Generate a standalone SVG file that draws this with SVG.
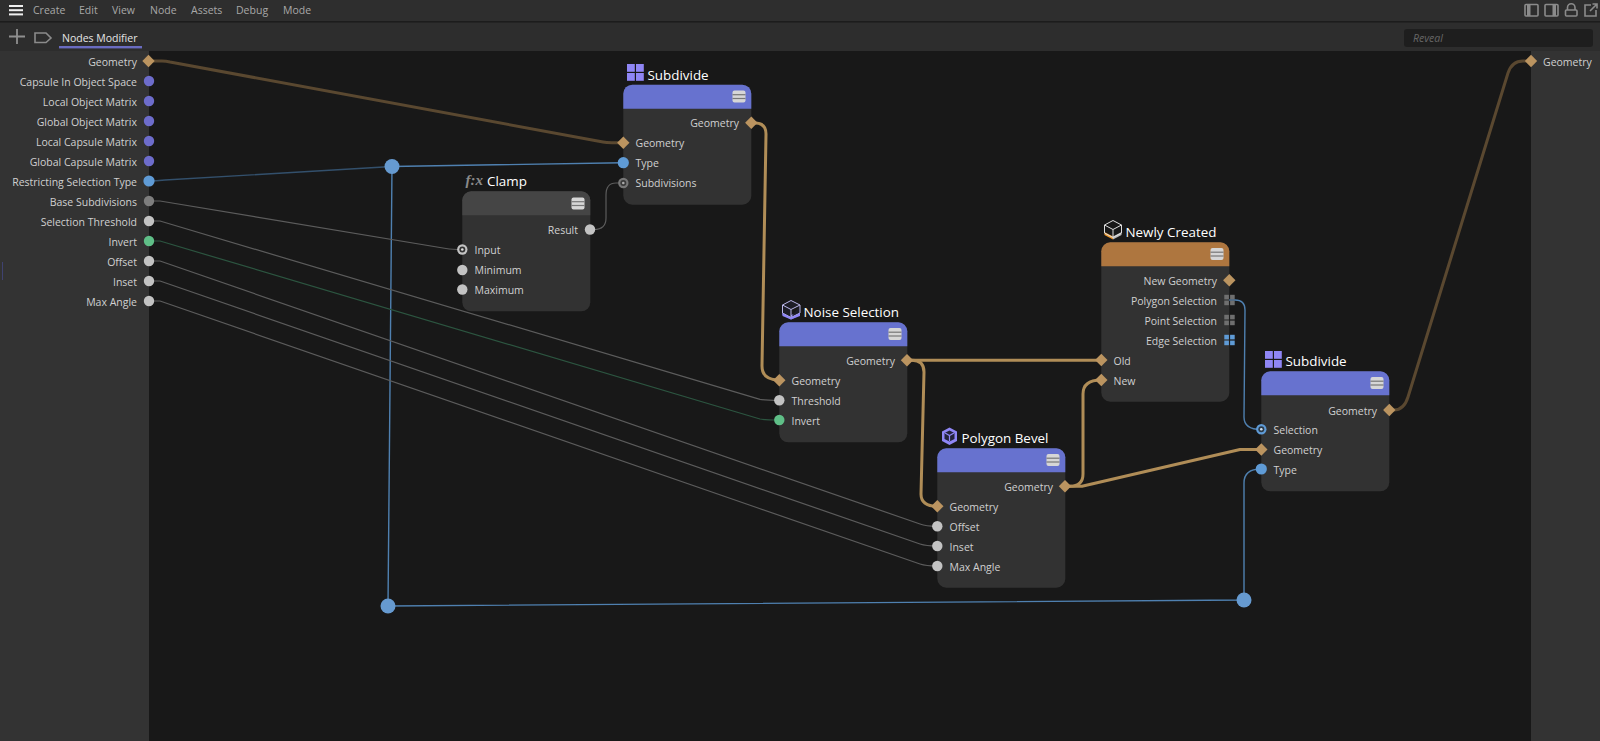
<svg xmlns="http://www.w3.org/2000/svg" width="1600" height="741" viewBox="0 0 1600 741">
<style>
text{font-family:"Open Sans","Noto Sans","Liberation Sans",sans-serif;font-size:10.5px;fill:#d0d0d0}
.r{text-anchor:end}
.m{font-size:10.5px;fill:#a8a8a8}
.t{font-size:13.4px;fill:#fff}
.body{fill:#323232}
.hb{fill:#6772cf}
.w{fill:none;stroke-linecap:round;stroke-linejoin:round}
.g{stroke:#b08d57;stroke-width:3}
.gd{stroke:#5a4830;stroke-width:3}
.b{stroke:#4f80b0;stroke-width:1.4}
.bd{stroke:#33506c;stroke-width:1.4}
.s{stroke:#5c5c5c;stroke-width:1.2}
.sg{stroke:#2c5540;stroke-width:1.2}
.ic{fill:none;stroke:#8b8b8b;stroke-width:1.6}
</style>
<defs>
<polygon id="dia" points="0,-6.2 6.2,0 0,6.2 -6.2,0" fill="#bb9460"/>
<circle id="w" r="5.2" fill="#c3c3c3"/>
<circle id="bl" r="5.6" fill="#5f9bd6"/>
<circle id="pu" r="5.2" fill="#6d6ccb"/>
<g id="ring"><circle r="5.2" fill="#c3c3c3"/><circle r="3" fill="#333"/><circle r="1.3" fill="#e0e0e0"/></g>
<g id="ringd"><circle r="5.2" fill="#777"/><circle r="3" fill="#3a3a3a"/><circle r="1.3" fill="#aaa"/></g>
<g id="ringb"><circle r="5.2" fill="#5f9bd6"/><circle r="3" fill="#2c3a48"/><circle r="1.3" fill="#cfe0f0"/></g>
<g id="menu"><rect x="-6.5" y="-6" width="13" height="12" rx="2" fill="#d6d6d6"/><rect x="-6.5" y="-2.4" width="13" height="1.2" fill="#777"/><rect x="-6.5" y="1.4" width="13" height="1.2" fill="#777"/></g>
<g id="grid"><rect width="7.8" height="7.8" x="0" y="0"/><rect width="7.8" height="7.8" x="9" y="0"/><rect width="7.8" height="7.8" x="0" y="9"/><rect width="7.8" height="7.8" x="9" y="9"/></g>
<g id="sq"><rect x="-5.2" y="-5.2" width="4.6" height="4.6"/><rect x="0.6" y="-5.2" width="4.6" height="4.6"/><rect x="-5.2" y="0.6" width="4.6" height="4.6"/><rect x="0.6" y="0.6" width="4.6" height="4.6"/></g>
</defs>

<rect id="canvas" width="1600" height="741" fill="#181818"/>

<g id="toolbar">
<rect width="1600" height="21" fill="#2e2e2e"/>
<rect y="21" width="1600" height="1.5" fill="#1c1c1c"/>
<rect y="22.5" width="1600" height="28.5" fill="#2d2d2d"/>
<rect x="9" y="5" width="14" height="2" fill="#eee"/><rect x="9" y="9.200" width="14" height="2" fill="#eee"/><rect x="9" y="13.400" width="14" height="2" fill="#eee"/>
<text class="m" x="33" y="14">Create</text><text class="m" x="79" y="14">Edit</text><text class="m" x="112" y="14">View</text><text class="m" x="150" y="14">Node</text><text class="m" x="191" y="14">Assets</text><text class="m" x="236" y="14">Debug</text><text class="m" x="283" y="14">Mode</text>
<path d="M17 29V44M9 36.500H25" stroke="#8f8f8f" stroke-width="1.800" fill="none"/>
<path d="M35 33H46L51 38L46 42.500H35Z" class="ic"/>
<text x="62" y="42" style="fill:#e6e6e6">Nodes Modifier</text>
<rect x="59" y="46" width="83" height="2.400" fill="#6a6cc0"/>
<rect x="1404" y="29" width="189" height="18" rx="3" fill="#1e1e1e"/>
<text x="1413" y="42" style="font-style:italic;fill:#666">Reveal</text>
<rect x="1525" y="4.500" width="13" height="11.500" rx="1" class="ic"/><rect x="1527" y="4.500" width="3.500" height="11.500" fill="#8b8b8b"/>
<rect x="1545" y="4.500" width="13" height="11.500" rx="1" class="ic"/><rect x="1552.500" y="4.500" width="3.500" height="11.500" fill="#8b8b8b"/>
<rect x="1565.500" y="10" width="11.500" height="6" rx="1" class="ic"/><path d="M1567.500 10V7.500a3.700 3.700 0 0 1 7.500 0V10" class="ic"/>
<path d="M1591 5H1585V16H1596V10M1590 11L1597 4M1592.500 4H1597V8.500" class="ic"/>
</g>

<g id="panel-left">
<rect y="51" width="149" height="690" fill="#333"/>
<rect x="2" y="262" width="1" height="18" fill="#3f4270"/>
<text class="r" x="137" y="65.500">Geometry</text>
<text class="r" x="137" y="85.500">Capsule In Object Space</text>
<text class="r" x="137" y="105.500">Local Object Matrix</text>
<text class="r" x="137" y="125.500">Global Object Matrix</text>
<text class="r" x="137" y="145.500">Local Capsule Matrix</text>
<text class="r" x="137" y="165.500">Global Capsule Matrix</text>
<text class="r" x="137" y="185.500">Restricting Selection Type</text>
<text class="r" x="137" y="205.500">Base Subdivisions</text>
<text class="r" x="137" y="225.500">Selection Threshold</text>
<text class="r" x="137" y="245.500">Invert</text>
<text class="r" x="137" y="265.500">Offset</text>
<text class="r" x="137" y="285.500">Inset</text>
<text class="r" x="137" y="305.500">Max Angle</text>
</g>
<g id="panel-right">
<rect x="1531" y="51" width="69" height="690" fill="#333"/>
<text x="1543" y="65.500">Geometry</text>
</g>

<g id="connectors">
<path class="w gd" d="M149 61H162Q166 61 170 62L603 142Q606 142.700 612 142.700H623"/>
<path class="w gd" d="M1389 410H1394Q1404 410 1408 397L1508 73Q1512 61 1523 61H1531"/>
<path class="w bd" d="M149 181Q156 181 165 180L392 166.500"/>
<path class="w b" d="M392 166.500L623 162.700"/>
<path class="w b" d="M392 166L388 606L1244 600V483Q1244 469 1261 469"/>
<path class="w b" d="M1229 300H1235Q1245 300 1245 310L1244 417Q1244 429.500 1261 429.500"/>
<path class="w s" d="M149 201H160L446 248.500Q452 249.500 462 249.500"/>
<path class="w s" d="M590 229.500H594Q606 229.500 606 218V195Q606 183 616 183H623"/>
<path class="w s" d="M149 221H160L760 399.300Q765 400.300 779 400.300"/>
<path class="w sg" d="M149 241H160L760 419Q765 420 779 420"/>
<path class="w s" d="M149 261H160L920 524Q926 526.300 937 526.300"/>
<path class="w s" d="M149 281H160L920 544Q926 546 937 546"/>
<path class="w s" d="M149 301H160L920 564Q926 566 937 566"/>
<path class="w g" d="M751 123H755Q766 123 766 134L762 366Q762 380 779 380"/>
<path class="w g" d="M907 360.300H1101"/>
<path class="w g" d="M907 360.300H912Q924 360.300 924 372L921 494Q921 506.300 937 506.300"/>
<path class="w g" d="M1065 486.300H1070Q1083 486.300 1083 474V394Q1083 380 1101 380"/>
<path class="w g" d="M1065 486.300H1082L1240 449.500H1261"/>
<circle cx="392" cy="166.500" r="7.500" fill="#669ad0"/>
<circle cx="388" cy="606" r="7.500" fill="#669ad0"/>
<circle cx="1244" cy="600" r="7.500" fill="#669ad0"/>
</g>

<g id="ports-left">
<use href="#dia" x="148.500" y="61"/>
<use href="#pu" x="149" y="81"/><use href="#pu" x="149" y="101"/><use href="#pu" x="149" y="121"/><use href="#pu" x="149" y="141"/><use href="#pu" x="149" y="161"/>
<use href="#bl" x="149" y="181"/>
<circle cx="149" cy="201" r="5.200" fill="#7d7d7d"/>
<use href="#w" x="149" y="221"/>
<circle cx="149" cy="241" r="5.200" fill="#5fbf87"/>
<use href="#w" x="149" y="261"/><use href="#w" x="149" y="281"/><use href="#w" x="149" y="301"/>
<use href="#dia" x="1531" y="61"/>
</g>

<g id="node-subdivide-1">
<rect class="body" x="623.300" y="84.700" width="128" height="120" rx="9"/>
<path class="hb" d="M623.300 108.700V93.700a9 9 0 0 1 9-9H742.300a9 9 0 0 1 9 9V108.700Z"/>
<use href="#menu" x="739" y="96.500"/>
<use href="#grid" x="627" y="64" fill="#8f86f5"/>
<text class="t" x="647.500" y="80">Subdivide</text>
<text class="r" x="739" y="127">Geometry</text><use href="#dia" x="751.300" y="122.700"/>
<use href="#dia" x="623.300" y="142.700"/><text x="635.500" y="147">Geometry</text>
<use href="#bl" x="623.300" y="162.700"/><text x="635.500" y="167">Type</text>
<use href="#ringd" x="623.300" y="183"/><text x="635.500" y="187">Subdivisions</text>
</g>

<g id="node-clamp">
<rect class="body" x="462.300" y="191.300" width="128" height="120" rx="9"/>
<path fill="#454545" d="M462.300 215.300V200.300a9 9 0 0 1 9-9H581.300a9 9 0 0 1 9 9V215.300Z"/>
<use href="#menu" x="578" y="203.500"/>
<text x="465.500" y="184.500" style="font-family:'Liberation Serif',serif;font-style:italic;font-weight:bold;font-size:15px;fill:#8a8a8a">f:x</text>
<text class="t" x="487" y="186">Clamp</text>
<text class="r" x="578" y="234">Result</text><use href="#w" x="590" y="229.500"/>
<use href="#ring" x="462.300" y="249.500"/><text x="474.500" y="254">Input</text>
<use href="#w" x="462.300" y="270"/><text x="474.500" y="274">Minimum</text>
<use href="#w" x="462.300" y="289.500"/><text x="474.500" y="294">Maximum</text>
</g>

<g id="node-noise-selection">
<rect class="body" x="779.300" y="322.300" width="128" height="120" rx="9"/>
<path class="hb" d="M779.300 346.300V331.300a9 9 0 0 1 9-9H898.300a9 9 0 0 1 9 9V346.300Z"/>
<use href="#menu" x="895" y="334"/>
<path d="M782.500 312.500L791 308V315L800 312.500V315L791 319.500L782.500 315Z" fill="#8f86f5"/>
<path d="M782.500 305L791 300.500L800 305L791 309.500Z M782.500 305V313L791 317.500V309.500M800 305V313L791 317.500" fill="#1d1d26" stroke="#b9b6e8" stroke-width="1"/>
<path d="M782.500 313L791 317.500L800 313V316L791 319.500L782.500 316Z" fill="#8f86f5"/>
<text class="t" x="803.500" y="317">Noise Selection</text>
<text class="r" x="895" y="365">Geometry</text><use href="#dia" x="907" y="360.300"/>
<use href="#dia" x="779.300" y="380.300"/><text x="791.500" y="385">Geometry</text>
<use href="#w" x="779.300" y="400.300"/><text x="791.500" y="405">Threshold</text>
<circle cx="779.300" cy="420" r="5.200" fill="#5fbf87"/><text x="791.500" y="425">Invert</text>
</g>

<g id="node-polygon-bevel">
<rect class="body" x="937.300" y="448.300" width="128" height="139.400" rx="9"/>
<path class="hb" d="M937.300 472.300V457.300a9 9 0 0 1 9-9H1056.300a9 9 0 0 1 9 9V472.300Z"/>
<use href="#menu" x="1053" y="460"/>
<path d="M949.500 427.500L957 431.500V441L949.500 445L942 441V431.500Z" fill="#8f86f5"/>
<path d="M944.500 433L949.500 430.500L954.500 433V439L949.500 441.500L944.500 439Z" fill="#23233a"/>
<path d="M945 433L949.500 435.500L954 433M949.500 435.500V441" fill="none" stroke="#8f86f5" stroke-width="1.200"/>
<text class="t" x="961.500" y="443">Polygon Bevel</text>
<text class="r" x="1053" y="491">Geometry</text><use href="#dia" x="1065" y="486.300"/>
<use href="#dia" x="937.300" y="506.300"/><text x="949.500" y="511">Geometry</text>
<use href="#w" x="937.300" y="526.300"/><text x="949.500" y="531">Offset</text>
<use href="#w" x="937.300" y="546"/><text x="949.500" y="551">Inset</text>
<use href="#w" x="937.300" y="566"/><text x="949.500" y="571">Max Angle</text>
</g>

<g id="node-newly-created">
<rect class="body" x="1101.300" y="242.300" width="128" height="159.400" rx="9"/>
<path fill="#ae763f" d="M1101.300 266.300V251.300a9 9 0 0 1 9-9H1220.300a9 9 0 0 1 9 9V266.300Z"/>
<use href="#menu" x="1217" y="254"/>
<path d="M1104.500 232L1113 236.500V239.500L1104.500 235Z" fill="#f09a2e"/><path d="M1113 236.500L1121.500 232V235L1113 239.500Z" fill="#bbb"/>
<path d="M1104.500 225L1113 220.500L1121.500 225L1113 229.500Z M1104.500 225V233L1113 237.500V229.500M1121.500 225V233L1113 237.500" fill="none" stroke="#ddd" stroke-width="1"/>
<text class="t" x="1125.500" y="237">Newly Created</text>
<text class="r" x="1217" y="285">New Geometry</text><use href="#dia" x="1229.300" y="280.300"/>
<text class="r" x="1217" y="305">Polygon Selection</text><use href="#sq" x="1229.500" y="300" fill="#6f6f6f"/>
<text class="r" x="1217" y="325">Point Selection</text><use href="#sq" x="1229.500" y="320" fill="#6f6f6f"/>
<text class="r" x="1217" y="345">Edge Selection</text><use href="#sq" x="1229.500" y="340" fill="#5f9bd6"/>
<use href="#dia" x="1101.300" y="360"/><text x="1113.500" y="365">Old</text>
<use href="#dia" x="1101.300" y="380"/><text x="1113.500" y="385">New</text>
</g>

<g id="node-subdivide-2">
<rect class="body" x="1261.300" y="371.300" width="128" height="120" rx="9"/>
<path class="hb" d="M1261.300 395.300V380.300a9 9 0 0 1 9-9H1380.300a9 9 0 0 1 9 9V395.300Z"/>
<use href="#menu" x="1377" y="383"/>
<use href="#grid" x="1265" y="351" fill="#8f86f5"/>
<text class="t" x="1285.500" y="366">Subdivide</text>
<text class="r" x="1377" y="414.500">Geometry</text><use href="#dia" x="1389.300" y="410"/>
<use href="#ringb" x="1261.300" y="429.300"/><text x="1273.500" y="434">Selection</text>
<use href="#dia" x="1261.300" y="449.500"/><text x="1273.500" y="454">Geometry</text>
<use href="#bl" x="1261.300" y="469"/><text x="1273.500" y="474">Type</text>
</g>
</svg>
